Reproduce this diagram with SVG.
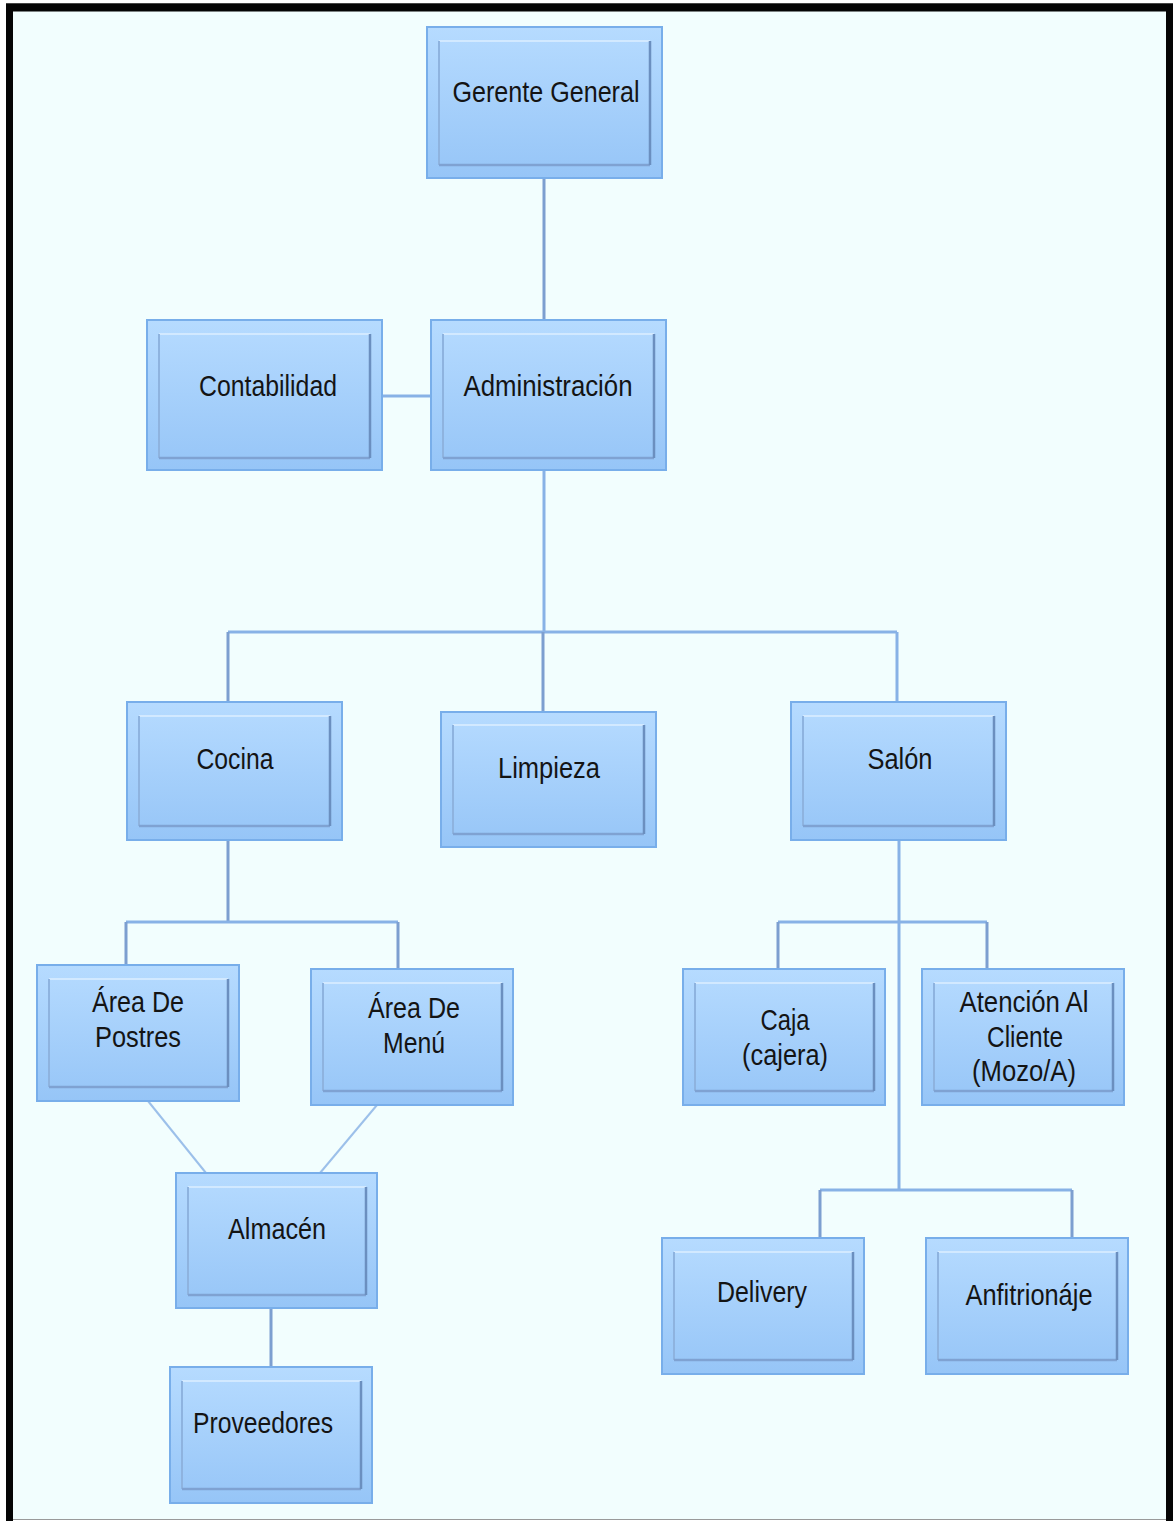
<svg xmlns="http://www.w3.org/2000/svg" width="1173" height="1521" viewBox="0 0 1173 1521">
  <defs>
    <linearGradient id="fillBlue" x1="0" y1="0" x2="0" y2="1">
      <stop offset="0" stop-color="#b6dbff"/>
      <stop offset="1" stop-color="#96c5f7"/>
    </linearGradient>
    <style>
      .outer { fill: url(#fillBlue); stroke: #78aeea; stroke-width: 2; }
      .hi { fill: none; stroke: #d2e9ff; stroke-width: 2; }
      .lo { fill: none; stroke: #6b8fbf; stroke-width: 2.5; }
      .bot { fill: none; stroke: #7fa2d2; stroke-width: 2.5; }
      .side { fill: none; stroke: #8eb3df; stroke-width: 2; }
      .link { fill: none; stroke: #88b2e6; stroke-width: 3; }
      .diag { fill: none; stroke: #9cc0ea; stroke-width: 2; }
      .stub { fill: none; stroke: #7d9fd0; stroke-width: 3; }
      text { font-family: "Liberation Sans", Arial, sans-serif; font-size: 30px; fill: #141414; text-anchor: middle; }
    </style>
  </defs>

  <!-- page background and frame -->
  <rect x="0" y="0" width="1173" height="1521" fill="#ffffff"/>
  <rect x="6" y="4" width="1164" height="1515" fill="#f2fefe"/>
  <path d="M6 3.5 H1173" stroke="#8a8a8a" stroke-width="1"/>
  <path d="M6 7.5 H1173" stroke="#050505" stroke-width="8"/>
  <path d="M9.5 4 V1521" stroke="#050505" stroke-width="7"/>
  <path d="M1169.5 4 V1521" stroke="#050505" stroke-width="7"/>
  <path d="M13 1519.5 H1166" stroke="#9a9a9a" stroke-width="1"/>

  <!-- connectors -->
  <g id="connectors">
    <path class="stub" d="M544 178 V320"/>
    <path class="link" d="M382 396 H431"/>
    <path class="link" d="M544 470 V632"/>
    <path class="link" d="M228 632 H897"/>
    <path class="stub" d="M228 632 V702"/>
    <path class="stub" d="M543 632 V712"/>
    <path class="link" d="M897 632 V702"/>
    <path class="stub" d="M228 840 V922"/>
    <path class="link" d="M126 922 H398"/>
    <path class="stub" d="M126 922 V965"/>
    <path class="stub" d="M398 922 V969"/>
    <path class="diag" d="M148 1101 L206 1173"/>
    <path class="diag" d="M377 1105 L320 1173"/>
    <path class="stub" d="M271 1308 V1367"/>
    <path class="link" d="M899 840 V1190"/>
    <path class="link" d="M778 922 H987"/>
    <path class="stub" d="M778 922 V969"/>
    <path class="stub" d="M987 922 V969"/>
    <path class="link" d="M820 1190 H1072"/>
    <path class="stub" d="M820 1190 V1238"/>
    <path class="stub" d="M1072 1190 V1238"/>
  </g>

  <!-- nodes: outer box, inner bevel (light top, soft left, dark right, muted bottom) -->
  <g id="gerente-general">
    <rect class="outer" x="427" y="27" width="235" height="151"/>
    <path class="hi" d="M439 41 H650"/>
    <path class="side" d="M439 41 V165"/>
    <path class="bot" d="M439 165 H650"/>
    <path class="lo" d="M650 41 V165"/>
    <text x="546" y="102" textLength="187" lengthAdjust="spacingAndGlyphs">Gerente General</text>
  </g>

  <g id="contabilidad">
    <rect class="outer" x="147" y="320" width="235" height="150"/>
    <path class="hi" d="M159 334 H370"/>
    <path class="side" d="M159 334 V458"/>
    <path class="bot" d="M159 458 H370"/>
    <path class="lo" d="M370 334 V458"/>
    <text x="268" y="396" textLength="138" lengthAdjust="spacingAndGlyphs">Contabilidad</text>
  </g>

  <g id="administracion">
    <rect class="outer" x="431" y="320" width="235" height="150"/>
    <path class="hi" d="M443 334 H654"/>
    <path class="side" d="M443 334 V458"/>
    <path class="bot" d="M443 458 H654"/>
    <path class="lo" d="M654 334 V458"/>
    <text x="548" y="396" textLength="169" lengthAdjust="spacingAndGlyphs">Administración</text>
  </g>

  <g id="cocina">
    <rect class="outer" x="127" y="702" width="215" height="138"/>
    <path class="hi" d="M139 716 H330"/>
    <path class="side" d="M139 716 V826"/>
    <path class="bot" d="M139 826 H330"/>
    <path class="lo" d="M330 716 V826"/>
    <text x="235" y="769" textLength="77" lengthAdjust="spacingAndGlyphs">Cocina</text>
  </g>

  <g id="limpieza">
    <rect class="outer" x="441" y="712" width="215" height="135"/>
    <path class="hi" d="M453 725 H644"/>
    <path class="side" d="M453 725 V834"/>
    <path class="bot" d="M453 834 H644"/>
    <path class="lo" d="M644 725 V834"/>
    <text x="549" y="778" textLength="102" lengthAdjust="spacingAndGlyphs">Limpieza</text>
  </g>

  <g id="salon">
    <rect class="outer" x="791" y="702" width="215" height="138"/>
    <path class="hi" d="M803 716 H994"/>
    <path class="side" d="M803 716 V826"/>
    <path class="bot" d="M803 826 H994"/>
    <path class="lo" d="M994 716 V826"/>
    <text x="900" y="769" textLength="65" lengthAdjust="spacingAndGlyphs">Salón</text>
  </g>

  <g id="area-postres">
    <rect class="outer" x="37" y="965" width="202" height="136"/>
    <path class="hi" d="M49 979 H228"/>
    <path class="side" d="M49 979 V1087"/>
    <path class="bot" d="M49 1087 H228"/>
    <path class="lo" d="M228 979 V1087"/>
    <text x="138" y="1012" textLength="92" lengthAdjust="spacingAndGlyphs">Área De</text>
    <text x="138" y="1047" textLength="86" lengthAdjust="spacingAndGlyphs">Postres</text>
  </g>

  <g id="area-menu">
    <rect class="outer" x="311" y="969" width="202" height="136"/>
    <path class="hi" d="M323 983 H502"/>
    <path class="side" d="M323 983 V1091"/>
    <path class="bot" d="M323 1091 H502"/>
    <path class="lo" d="M502 983 V1091"/>
    <text x="414" y="1018" textLength="92" lengthAdjust="spacingAndGlyphs">Área De</text>
    <text x="414" y="1053" textLength="62" lengthAdjust="spacingAndGlyphs">Menú</text>
  </g>

  <g id="caja">
    <rect class="outer" x="683" y="969" width="202" height="136"/>
    <path class="hi" d="M695 983 H874"/>
    <path class="side" d="M695 983 V1091"/>
    <path class="bot" d="M695 1091 H874"/>
    <path class="lo" d="M874 983 V1091"/>
    <text x="785" y="1030" textLength="49" lengthAdjust="spacingAndGlyphs">Caja</text>
    <text x="785" y="1065" textLength="86" lengthAdjust="spacingAndGlyphs">(cajera)</text>
  </g>

  <g id="atencion-cliente">
    <rect class="outer" x="922" y="969" width="202" height="136"/>
    <path class="hi" d="M934 983 H1113"/>
    <path class="side" d="M934 983 V1091"/>
    <path class="bot" d="M934 1091 H1113"/>
    <path class="lo" d="M1113 983 V1091"/>
    <text x="1024" y="1012" textLength="129" lengthAdjust="spacingAndGlyphs">Atención Al</text>
    <text x="1025" y="1047" textLength="76" lengthAdjust="spacingAndGlyphs">Cliente</text>
    <text x="1024" y="1081" textLength="104" lengthAdjust="spacingAndGlyphs">(Mozo/A)</text>
  </g>

  <g id="almacen">
    <rect class="outer" x="176" y="1173" width="201" height="135"/>
    <path class="hi" d="M188 1187 H366"/>
    <path class="side" d="M188 1187 V1295"/>
    <path class="bot" d="M188 1295 H366"/>
    <path class="lo" d="M366 1187 V1295"/>
    <text x="277" y="1239" textLength="98" lengthAdjust="spacingAndGlyphs">Almacén</text>
  </g>

  <g id="proveedores">
    <rect class="outer" x="170" y="1367" width="202" height="136"/>
    <path class="hi" d="M182 1381 H361"/>
    <path class="side" d="M182 1381 V1489"/>
    <path class="bot" d="M182 1489 H361"/>
    <path class="lo" d="M361 1381 V1489"/>
    <text x="263" y="1433" textLength="140" lengthAdjust="spacingAndGlyphs">Proveedores</text>
  </g>

  <g id="delivery">
    <rect class="outer" x="662" y="1238" width="202" height="136"/>
    <path class="hi" d="M674 1252 H853"/>
    <path class="side" d="M674 1252 V1360"/>
    <path class="bot" d="M674 1360 H853"/>
    <path class="lo" d="M853 1252 V1360"/>
    <text x="762" y="1302" textLength="90" lengthAdjust="spacingAndGlyphs">Delivery</text>
  </g>

  <g id="anfitrionaje">
    <rect class="outer" x="926" y="1238" width="202" height="136"/>
    <path class="hi" d="M938 1252 H1117"/>
    <path class="side" d="M938 1252 V1360"/>
    <path class="bot" d="M938 1360 H1117"/>
    <path class="lo" d="M1117 1252 V1360"/>
    <text x="1029" y="1305" textLength="127" lengthAdjust="spacingAndGlyphs">Anfitrionáje</text>
  </g>
</svg>
